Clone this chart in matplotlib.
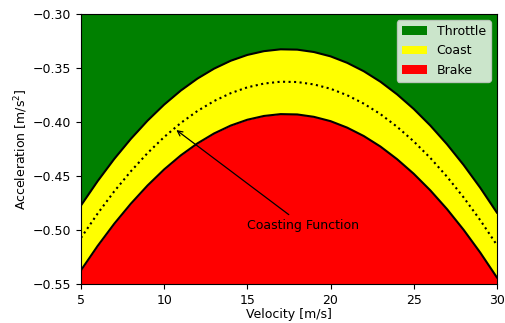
import matplotlib
matplotlib.use("Agg")
import matplotlib.pyplot as plt

# velocity samples [m/s]
velocity = [5, 6, 7, 8, 9, 10, 11, 12, 13, 14, 15, 16, 17,
            18, 19, 20, 21, 22, 23, 24, 25, 26, 27, 28, 29, 30]

# coasting function (dotted line) [m/s^2]
coast = [-0.5074, -0.4849, -0.4643, -0.4457, -0.4289, -0.4140, -0.4010,
         -0.3899, -0.3807, -0.3734, -0.3680, -0.3645, -0.3628, -0.3631,
         -0.3653, -0.3693, -0.3753, -0.3831, -0.3928, -0.4045, -0.4180,
         -0.4334, -0.4507, -0.4699, -0.4910, -0.5140]

# upper edge of the coast band (above -> throttle)
upper = [-0.4774, -0.4549, -0.4343, -0.4157, -0.3989, -0.3840, -0.3710,
         -0.3599, -0.3507, -0.3434, -0.3380, -0.3345, -0.3328, -0.3331,
         -0.3353, -0.3393, -0.3453, -0.3531, -0.3628, -0.3745, -0.3880,
         -0.4034, -0.4207, -0.4399, -0.4610, -0.4840]

# lower edge of the coast band (below -> brake)
lower = [-0.5374, -0.5149, -0.4943, -0.4757, -0.4589, -0.4440, -0.4310,
         -0.4199, -0.4107, -0.4034, -0.3980, -0.3945, -0.3928, -0.3931,
         -0.3953, -0.3993, -0.4053, -0.4131, -0.4228, -0.4345, -0.4480,
         -0.4634, -0.4807, -0.4999, -0.5210, -0.5440]

y_top = -0.30
y_bottom = -0.55


def show_chart():
	fig = plt.figure(figsize=(5.06, 3.23), dpi=100)
	ax = fig.add_axes([0.160, 0.121, 0.822, 0.836])

	ax.fill_between(velocity, upper, y_top, color='green', linewidth=0, label='Throttle')
	ax.fill_between(velocity, lower, upper, color='yellow', linewidth=0, label='Coast')
	ax.fill_between(velocity, y_bottom, lower, color='red', linewidth=0, label='Brake')

	ax.plot(velocity, upper, color='black', linewidth=1.5)
	ax.plot(velocity, lower, color='black', linewidth=1.5)
	ax.plot(velocity, coast, color='black', linestyle=':', linewidth=1.5)

	ax.annotate('Coasting Function', xy=(10.6, -0.406), xytext=(15.0, -0.496),
	            ha='left', va='center', fontsize=9,
	            arrowprops=dict(arrowstyle='->', color='black', linewidth=0.9))

	ax.set_xlim(5, 30)
	ax.set_ylim(y_bottom, y_top)
	ax.set_xlabel('Velocity [m/s]', fontsize=9, labelpad=1)
	ax.set_ylabel('Acceleration [m/s$^2$]', fontsize=9, labelpad=2)
	ax.tick_params(labelsize=9)
	ax.legend(loc='upper right', fontsize=9)

	fig.savefig('out.png', dpi=100)


if __name__ == '__main__':
	show_chart()
